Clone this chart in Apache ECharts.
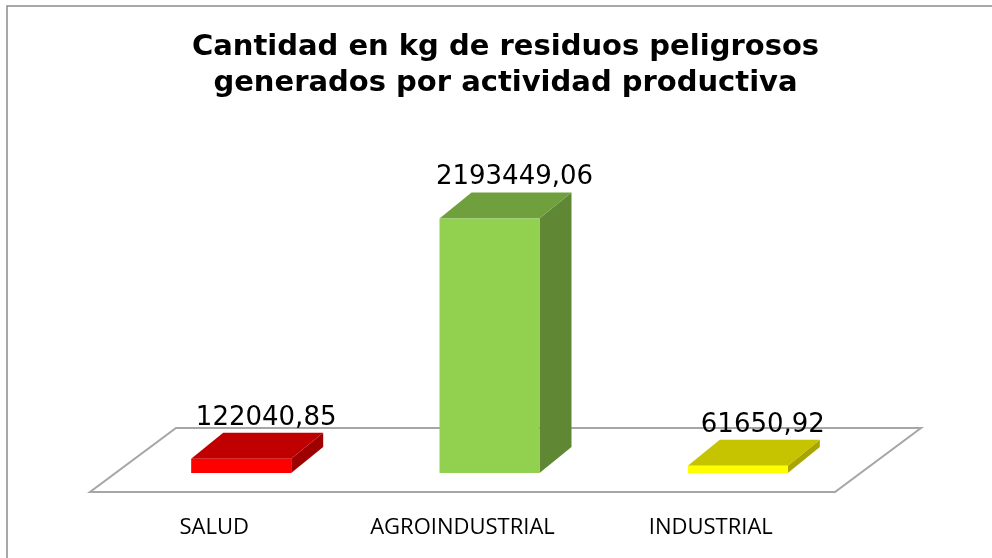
<!DOCTYPE html>
<html>
<head>
<meta charset="utf-8">
<script src="https://cdn.jsdelivr.net/npm/echarts@6/dist/echarts.min.js"></script>
<style>
html,body{margin:0;padding:0;background:#fff;}
#chart{width:992px;height:558px;}
</style>
</head>
<body>
<div id="chart"></div>
<script>
const titleLines = ['Cantidad en kg de residuos peligrosos', 'generados por actividad productiva'];
const categories = ['SALUD', 'AGROINDUSTRIAL', 'INDUSTRIAL'];
const values = [122040.85, 2193449.06, 61650.92];
const valueLabels = ['122040,85', '2193449,06', '61650,92'];
const frontColors = ['#FF0000', '#92D050', '#FFFF00'];
const topColors = ['#C00000', '#6FA03D', '#C6C300'];
const sideColors = ['#9E0000', '#5F8734', '#A9A500'];

const chart = echarts.init(document.getElementById('chart'), null, {renderer: 'canvas'});

const HALF_W = 50;       // half width of a bar front face
const DEPTH_X = 32, DEPTH_Y = 26; // bar depth offset
const FLOOR_X = 43, FLOOR_Y = 32; // floor half depth

function renderBar(params, api) {
  const i = api.value(0);
  const v = api.value(1);
  const top = api.coord([i, v]);
  const base = api.coord([i, 0]);
  const cx = top[0];
  const fx0 = cx - DEPTH_X / 2 - HALF_W;
  const fx1 = cx - DEPTH_X / 2 + HALF_W;
  const fyTop = top[1] + DEPTH_Y / 2;
  const fyBot = base[1] + DEPTH_Y / 2;
  return {
    type: 'group',
    children: [
      {
        type: 'polygon',
        shape: {points: [[fx1, fyTop], [fx1 + DEPTH_X, fyTop - DEPTH_Y], [fx1 + DEPTH_X, fyBot - DEPTH_Y], [fx1, fyBot]]},
        style: {fill: sideColors[i]}
      },
      {
        type: 'polygon',
        shape: {points: [[fx0, fyTop], [fx1, fyTop], [fx1 + DEPTH_X, fyTop - DEPTH_Y], [fx0 + DEPTH_X, fyTop - DEPTH_Y]]},
        style: {fill: topColors[i]}
      },
      {
        type: 'rect',
        shape: {x: fx0, y: fyTop, width: fx1 - fx0, height: fyBot - fyTop},
        style: {fill: frontColors[i]}
      },
      {
        type: 'text',
        style: {
          text: valueLabels[i],
          x: cx + 9,
          y: fyTop - DEPTH_Y - 15,
          align: 'center',
          verticalAlign: 'middle',
          fontSize: 26,
          fontFamily: 'DejaVu Sans',
          fill: '#000'
        }
      }
    ]
  };
}

function renderFloor(params, api) {
  const cs = params.coordSys;
  const base = api.coord([0, 0])[1];
  const L = cs.x, R = cs.x + cs.width;
  return {
    type: 'polygon',
    shape: {points: [[L - FLOOR_X, base + FLOOR_Y], [R - FLOOR_X, base + FLOOR_Y], [R + FLOOR_X, base - FLOOR_Y], [L + FLOOR_X, base - FLOOR_Y]]},
    style: {fill: '#fff', stroke: '#A6A6A6', lineWidth: 2}
  };
}

const option = {
  backgroundColor: '#fff',
  animation: false,
  grid: {left: 133, right: 114, top: 170, bottom: 98},
  xAxis: {
    type: 'category',
    data: categories,
    axisLine: {show: false},
    axisTick: {show: false},
    axisLabel: {
      interval: 0,
      fontFamily: 'Open Sans',
      fontSize: 22,
      color: '#000',
      margin: 57,
      padding: [0, 86, 0, 0]
    }
  },
  yAxis: {
    type: 'value',
    min: 0,
    max: 2500000,
    show: false,
    splitLine: {show: false}
  },
  graphic: [
    {
      type: 'rect',
      shape: {x: 7, y: 6, width: 1000, height: 600},
      style: {fill: 'none', stroke: '#8C8C8C', lineWidth: 1.5},
      z: 100
    },
    {
      type: 'text',
      x: 505.5,
      y: 29,
      style: {
        text: titleLines.join('\n'),
        align: 'center',
        verticalAlign: 'top',
        fontSize: 29,
        fontWeight: 'bold',
        fontFamily: 'DejaVu Sans',
        lineHeight: 36,
        fill: '#000'
      }
    }
  ],
  series: [
    {
      type: 'custom',
      renderItem: renderFloor,
      data: [[0, 0]],
      z: 1,
      silent: true
    },
    {
      type: 'custom',
      renderItem: renderBar,
      data: values.map((v, i) => [i, v]),
      z: 2
    }
  ]
};
chart.setOption(option);
</script>
</body>
</html>
